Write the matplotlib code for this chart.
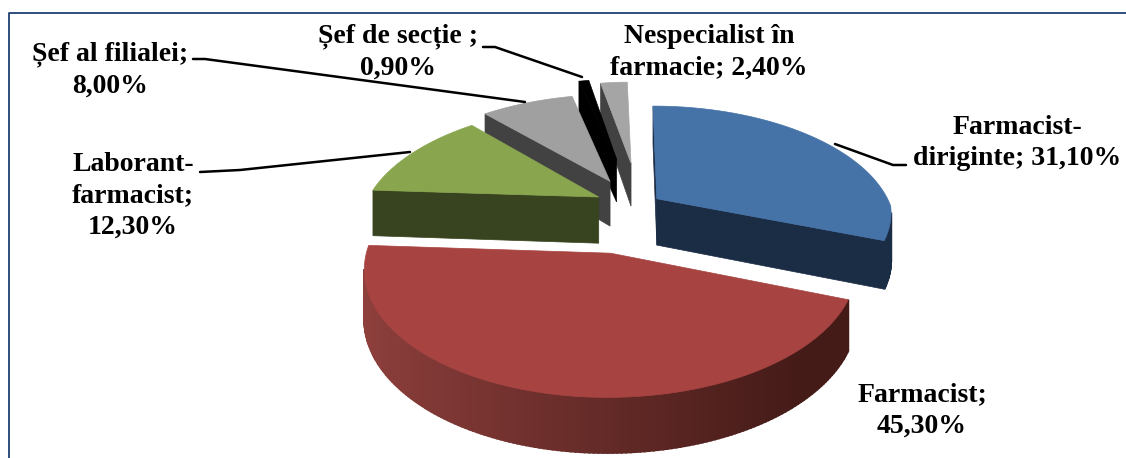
import numpy as np
import matplotlib
matplotlib.use("Agg")
import matplotlib.pyplot as plt
from matplotlib.colors import to_rgb
from matplotlib.patches import Polygon

# chart data, clockwise from 12 o'clock
categories = ["Farmacist-diriginte", "Farmacist", "Laborant-farmacist",
              "Sef al filialei", "Sef de sectie", "Nespecialist"]
values = [31.1, 45.3, 12.3, 8.0, 0.9, 2.4]
labels = ["Farmacist-\ndiriginte; 31,10%", "Farmacist;\n45,30%", "Laborant-\nfarmacist;\n12,30%",
          "Șef al filialei;\n8,00%", "Șef de secție ;\n0,90%", "Nespecialist în\nfarmacie; 2,40%"]
explode = [0.11, 0.40, 0.18, 0.25, 0.45, 0.40]
explode_turn = [0, 3, 0, 0, 0, 2.5]

top_colors = ["#4572a7", "#a74442", "#89a54e", "#a0a0a0", "#000000", "#a5a5a5"]
wall_colors = ["#1b2c45", "#451b18", "#38441f", "#424242", "#000000", "#424242"]

label_pos = [(1017, 143), (922, 410), (133, 196), (110, 70), (398, 52), (709, 52)]
leaders = [[(835, 144), (893, 165), (906, 165)],
           [(200, 172), (240, 170), (410, 152)],
           [(193, 59), (205, 59), (525, 102)],
           [(483, 47), (495, 47), (582, 77)]]

cx, cy = 636, 206
rx, ry = 234, 117
depth = 47
q_back, q_front = 0.23, 0.11
start = np.radians(-1.5)


def proj_xy(X, Y, low=False):
    # pseudo perspective, the back of the pie shrinks faster than the front grows
    s = 1 / (1 + (q_back if Y >= 0 else q_front) * Y)
    return np.array([cx + rx * X * s, cy - ry * Y * s + (depth * s if low else 0)])


def project(a, e, mid, low=False):
    X = e * np.sin(mid) + np.sin(a)
    Y = e * np.cos(mid) + np.cos(a)
    return proj_xy(X, Y, low)


def area(pts):
    p = np.array(pts)
    return 0.5 * np.sum(p[:, 0] * np.roll(p[:, 1], -1) - np.roll(p[:, 0], -1) * p[:, 1])


fig = plt.figure(figsize=(11.26, 4.58), dpi=100)
ax = fig.add_axes([0, 0, 1, 1])
ax.set_xlim(0, 1126)
ax.set_ylim(458, 0)
ax.axis("off")

# frame only shows on the top and left
ax.plot([1126, 8.5, 8.5], [13, 13, 458], color="#1f3f73", lw=1.3)

edges = start + np.concatenate([[0], np.cumsum(values)]) / 100 * 2 * np.pi
edges[0] = 0  # first cut stays upright
draw_order = [5, 4, 3, 2, 0, 1]

for i in draw_order:
    a0, a1 = edges[i], edges[i + 1]
    mid = (a0 + a1) / 2 + np.radians(explode_turn[i])
    e = explode[i]
    apex = proj_xy(e * np.sin(mid), e * np.cos(mid))
    apex_low = proj_xy(e * np.sin(mid), e * np.cos(mid), True)
    angles = np.linspace(a0, a1, max(int((a1 - a0) * 60), 3))

    # radial cut faces
    for a, sign in ((a0, -1), (a1, 1)):
        quad = [apex, project(a, e, mid), project(a, e, mid, True), apex_low]
        if area(quad) * sign > 0:
            ax.add_patch(Polygon(quad, fc=wall_colors[i], ec=wall_colors[i], lw=0.5))

    # outer rim
    for a, b in zip(angles[:-1], angles[1:]):
        quad = [project(a, e, mid), project(b, e, mid),
                project(b, e, mid, True), project(a, e, mid, True)]
        if area(quad) < 0:
            color = wall_colors[i]
            if i == 1:
                # red rim fades from left to right
                t = np.clip((np.sin(a) + 1) / 1.7, 0, 1)
                c0 = np.array(to_rgb("#8f403d"))
                c1 = np.array(to_rgb("#451b18"))
                color = c0 + (c1 - c0) * t
            ax.add_patch(Polygon(quad, fc=color, ec=color, lw=1.5))

    # top face
    top = [apex] + [project(a, e, mid) for a in angles]
    ax.add_patch(Polygon(top, fc=top_colors[i], ec=top_colors[i], lw=0.5))

for line in leaders:
    xs, ys = zip(*line)
    ax.plot(xs, ys, color="black", lw=1.8, solid_capstyle="round")

for txt, (x, y) in zip(labels, label_pos):
    ax.text(x, y, txt, ha="center", va="center", family="Liberation Serif",
            weight="bold", fontsize=20, color="black", linespacing=1.35)

fig.savefig("out.png", dpi=100)
